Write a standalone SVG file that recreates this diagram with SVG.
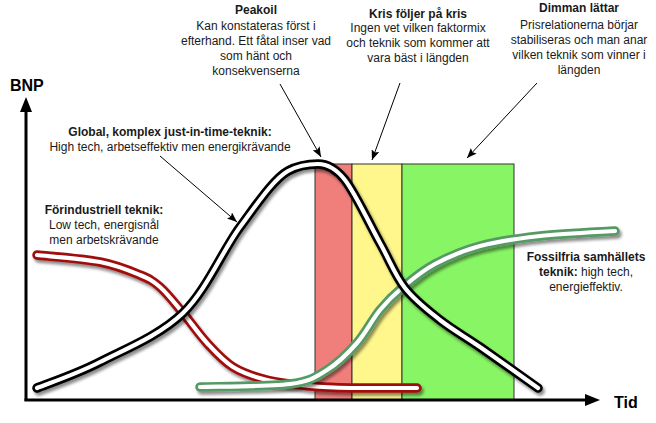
<svg xmlns="http://www.w3.org/2000/svg" width="656" height="423" viewBox="0 0 656 423">
<style>
text{font-family:"Liberation Sans",Arial,sans-serif;font-size:12px;fill:#1a1a1a;text-anchor:middle}
.b{font-weight:bold}
.ax{font-weight:bold;font-size:16px;fill:#000;text-anchor:start}
.phase{stroke:#333;stroke-width:1}
.outer{fill:none;stroke-width:9.5;stroke-linecap:round;stroke-linejoin:round}
.inner{fill:none;stroke:#fff;stroke-width:4.2;stroke-linecap:round;stroke-linejoin:round}
.conn{fill:none;stroke:#000;stroke-width:1}
</style>
<defs>
<marker id="ah" viewBox="0 0 10 8" refX="10" refY="4" markerWidth="10" markerHeight="8" markerUnits="userSpaceOnUse" orient="auto">
<path d="M0,0 L10,4 L0,8 L2,4 Z" fill="#000"/>
</marker>
<filter id="sh" x="-10%" y="-10%" width="130%" height="140%">
<feGaussianBlur in="SourceAlpha" stdDeviation="1.8"/>
<feOffset dx="2" dy="3" result="o"/>
<feComponentTransfer><feFuncA type="linear" slope="0.45"/></feComponentTransfer>
<feMerge><feMergeNode/><feMergeNode in="SourceGraphic"/></feMerge>
</filter>
</defs>
<rect width="656" height="423" fill="#fff"/>

<g id="phases">
<rect id="phase-red" class="phase" x="315" y="164" width="37" height="236" fill="#f07f7c"/>
<rect id="phase-yellow" class="phase" x="352" y="164" width="50" height="236" fill="#fff68c"/>
<rect id="phase-green" class="phase" x="402" y="164" width="112" height="236" fill="#88f565"/>
</g>

<g id="axes">
<line x1="26" y1="401" x2="26" y2="110" stroke="#000" stroke-width="3"/>
<path d="M26,97 L32,112 L20,112 Z" fill="#000"/>
<line x1="24.5" y1="400" x2="587" y2="400" stroke="#000" stroke-width="3"/>
<path d="M600,400 L585,394 L585,406 Z" fill="#000"/>
<text class="ax" x="10" y="91">BNP</text>
<text class="ax" x="614" y="408">Tid</text>
</g>

<g id="curve-preindustrial" filter="url(#sh)">
<path class="outer" stroke="#a00d0d" d="M37,255 C47.5,256.2 82.8,258.7 100,262 C117.2,265.3 130,270.8 140,275 C150,279.2 152.8,280.7 160,287 C167.2,293.3 175.2,303.7 183,313 C190.8,322.3 198.7,334 207,343 C215.3,352 223,360.8 233,367 C243,373.2 254.2,376.8 267,380 C279.8,383.2 296.2,384.7 310,386 C323.8,387.3 332.2,387.7 350,388 L417,388"/>
<path class="inner" d="M37,255 C47.5,256.2 82.8,258.7 100,262 C117.2,265.3 130,270.8 140,275 C150,279.2 152.8,280.7 160,287 C167.2,293.3 175.2,303.7 183,313 C190.8,322.3 198.7,334 207,343 C215.3,352 223,360.8 233,367 C243,373.2 254.2,376.8 267,380 C279.8,383.2 296.2,384.7 310,386 C323.8,387.3 332.2,387.7 350,388 L417,388"/>
</g>

<g id="curve-fossilfree" filter="url(#sh)">
<path class="outer" stroke="#559a65" d="M200,387 C215,386.5 268.8,386.8 290,384 C311.2,381.2 315.8,376.8 327,370 C338.2,363.2 348.2,353 357,343 C365.8,333 372.3,319.3 380,310 C387.7,300.7 393.8,294.7 403,287 C412.2,279.3 422.2,270.8 435,264 C447.8,257.2 462.5,250.7 480,246 C497.5,241.3 517.5,238.5 540,236 C562.5,233.5 602.5,231.8 615,231"/>
<path class="inner" d="M200,387 C215,386.5 268.8,386.8 290,384 C311.2,381.2 315.8,376.8 327,370 C338.2,363.2 348.2,353 357,343 C365.8,333 372.3,319.3 380,310 C387.7,300.7 393.8,294.7 403,287 C412.2,279.3 422.2,270.8 435,264 C447.8,257.2 462.5,250.7 480,246 C497.5,241.3 517.5,238.5 540,236 C562.5,233.5 602.5,231.8 615,231"/>
</g>

<g id="curve-global" filter="url(#sh)">
<path class="outer" stroke="#000" d="M37,388 C47.5,383.7 75.7,374.5 100,362 C124.3,349.5 159.7,335.5 183,313 C206.3,290.5 222.5,250.7 240,227 C257.5,203.3 274,178.7 288,171 C298,165.5 308,164 318,164 C328,164 337,169.8 345,180 C355.3,193.2 370,225 380,243 C390,261 395,275.2 405,288 C415,300.8 427.5,310.2 440,320 C452.5,329.8 463.7,335.7 480,347 C496.3,358.3 528.3,381.2 538,388"/>
<path class="inner" d="M37,388 C47.5,383.7 75.7,374.5 100,362 C124.3,349.5 159.7,335.5 183,313 C206.3,290.5 222.5,250.7 240,227 C257.5,203.3 274,178.7 288,171 C298,165.5 308,164 318,164 C328,164 337,169.8 345,180 C355.3,193.2 370,225 380,243 C390,261 395,275.2 405,288 C415,300.8 427.5,310.2 440,320 C452.5,329.8 463.7,335.7 480,347 C496.3,358.3 528.3,381.2 538,388"/>
</g>

<g id="connectors">
<line class="conn" x1="280" y1="84" x2="321" y2="157" marker-end="url(#ah)"/>
<line class="conn" x1="400" y1="83" x2="372" y2="160" marker-end="url(#ah)"/>
<line class="conn" x1="537" y1="83" x2="467" y2="158" marker-end="url(#ah)"/>
<line class="conn" x1="160" y1="156" x2="237" y2="222" marker-end="url(#ah)"/>
</g>

<g id="label-peakoil">
<text class="b" x="256" y="14">Peakoil</text>
<text x="256" y="30">Kan konstateras först i</text>
<text x="256" y="45">efterhand. Ett fåtal inser vad</text>
<text x="256" y="60">som hänt och</text>
<text x="256" y="75">konsekvenserna</text>
</g>

<g id="label-kris">
<text class="b" x="418" y="18">Kris följer på kris</text>
<text x="418" y="32">Ingen vet vilken faktormix</text>
<text x="418" y="47">och teknik som kommer att</text>
<text x="418" y="62">vara bäst i längden</text>
</g>

<g id="label-dimman">
<text class="b" x="579" y="12">Dimman lättar</text>
<text x="579" y="29">Prisrelationerna börjar</text>
<text x="579" y="44">stabiliseras och man anar</text>
<text x="579" y="59">vilken teknik som vinner i</text>
<text x="579" y="74">längden</text>
</g>

<g id="label-global">
<text class="b" x="170" y="136">Global, komplex just-in-time-teknik:</text>
<text x="170" y="151">High tech, arbetseffektiv men energikrävande</text>
</g>

<g id="label-preindustrial">
<text class="b" x="104" y="214">Förindustriell teknik:</text>
<text x="104" y="229">Low tech, energisnål</text>
<text x="104" y="244">men arbetskrävande</text>
</g>

<g id="label-fossilfree">
<text class="b" x="586" y="261">Fossilfria samhällets</text>
<text x="586" y="276"><tspan class="b">teknik:</tspan> high tech,</text>
<text x="586" y="291">energieffektiv.</text>
</g>
</svg>
